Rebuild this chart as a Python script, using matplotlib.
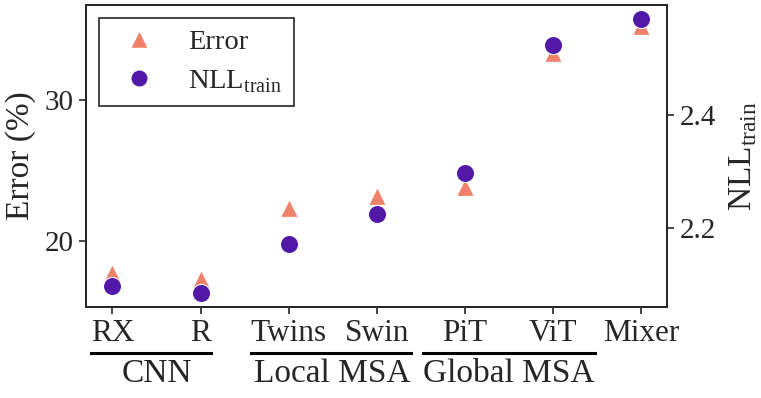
import numpy as np
import matplotlib
matplotlib.use("Agg")
from matplotlib import pyplot as plt
from matplotlib.lines import Line2D

plt.rcParams["font.family"] = ["Liberation Serif", "DejaVu Serif"]
plt.rcParams["mathtext.fontset"] = "custom"
plt.rcParams["mathtext.rm"] = "Liberation Serif"
plt.rcParams["text.color"] = "#262626"
plt.rcParams["axes.labelcolor"] = "#262626"
plt.rcParams["xtick.color"] = "#262626"
plt.rcParams["ytick.color"] = "#262626"

models = ["RX", "R", "Twins", "Swin", "PiT", "ViT", "Mixer"]
error = [17.67, 17.24, 22.32, 23.2, 23.85, 33.34, 35.26]
nll_train = [2.097, 2.085, 2.172, 2.225, 2.297, 2.524, 2.569]
groups = [("CNN", 0, 1), ("Local MSA", 2, 3), ("Global MSA", 4, 5)]

err_color = "#EE8168"
nll_color = "#5219A8"
edge = "#262626"

fig = plt.figure(figsize=(7.61, 3.98), dpi=100)
ax = fig.add_axes([0.113, 0.229, 0.764, 0.758])
ax2 = ax.twinx()

x = np.arange(len(models))
ax.scatter(x, error, marker="^", s=165, color=err_color, edgecolors="white",
           linewidths=0.8, zorder=3)
ax2.scatter(x, nll_train, marker="o", s=170, color=nll_color, edgecolors="white",
            linewidths=0.8, zorder=3)

ax.set_xlim(-0.3, 6.3)
ax.set_ylim(15.29, 36.75)
ax2.set_ylim(2.061, 2.594)
ax.set_xticks(x)
ax.set_xticklabels(models)
ax.set_yticks([20, 30])
ax2.set_yticks([2.2, 2.4])
ax2.set_yticklabels(["2.2", "2.4"])

for a in (ax, ax2):
    for s in a.spines.values():
        s.set_color(edge)
        s.set_linewidth(1.3)
    a.tick_params(labelsize=21, length=5, width=1.2, direction="out", pad=4)
ax.tick_params(axis="x", labelsize=22.5)

ax.set_ylabel("Error (%)", fontsize=24, labelpad=6)
ax2.set_ylabel(r"NLL$_{\rm train}$", fontsize=24, labelpad=8)

handles = [
    Line2D([], [], marker="^", ls="", ms=12.5, color=err_color, mec="white"),
    Line2D([], [], marker="o", ls="", ms=12.5, color=nll_color, mec="white"),
]
leg = ax.legend(handles, ["Error", r"NLL$_{\rm train}$"], loc="upper left",
                fontsize=20.5, frameon=True, fancybox=False, framealpha=1,
                edgecolor=edge, handletextpad=0.75, borderpad=0.4,
                labelspacing=0.45, borderaxespad=0.45)
leg.get_frame().set_linewidth(1.2)
leg.set_zorder(10)

# group labels under tick labels, with a line spanning the group
fig.canvas.draw()
renderer = fig.canvas.get_renderer()
ticklabels = ax.get_xticklabels()
line_y = 353.3
text_y = 374
W, H = fig.bbox.width, fig.bbox.height
for name, i0, i1 in groups:
    xc = (ax.transData.transform((i0, 0))[0] + ax.transData.transform((i1, 0))[0]) / 2
    t = fig.text(xc / W, 1 - text_y / H, name, ha="center", va="center", fontsize=24)
    tb = t.get_window_extent(renderer)
    lb = [ticklabels[i].get_window_extent(renderer) for i in range(i0, i1 + 1)]
    left = min([tb.x0] + [b.x0 for b in lb])
    right = max([tb.x1] + [b.x1 for b in lb])
    fig.add_artist(Line2D([left / W, right / W], [1 - line_y / H, 1 - line_y / H],
                          transform=fig.transFigure, color="black", lw=2.2))

fig.savefig("out.png", dpi=100)
